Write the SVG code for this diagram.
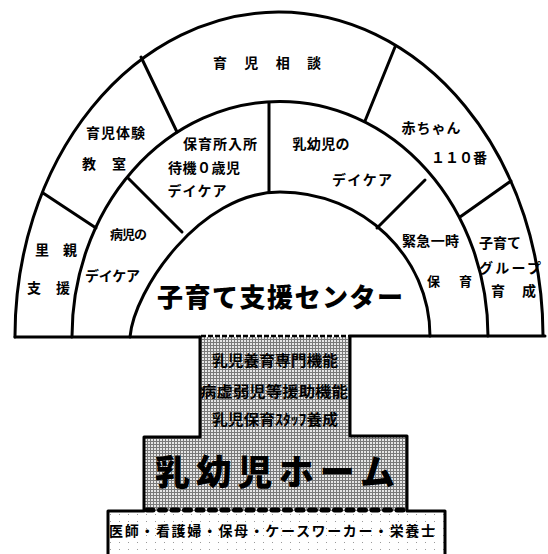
<svg xmlns="http://www.w3.org/2000/svg" width="548" height="554" viewBox="0 0 548 554">
<style>
.ln{fill:none;stroke:#000;stroke-width:3;stroke-linecap:round;stroke-linejoin:round}
.t{font-family:"Noto Sans CJK JP","Noto Sans CJK SC",sans-serif;font-weight:bold;fill:#000;dominant-baseline:central}
.big{font-weight:900}
.s13{font-size:13px}
.s14{font-size:14px}
.s15{font-size:15px}
</style>
<defs>
<pattern id="half" width="3" height="3" patternUnits="userSpaceOnUse">
<rect width="3" height="3" fill="#e6e6e6"/>
<rect width="3" height="1" fill="#7a7a7a"/>
<rect width="1" height="3" fill="#7a7a7a"/>
</pattern>
<pattern id="sparse" width="9" height="7" patternUnits="userSpaceOnUse">
<rect width="9" height="7" fill="#fff"/>
<rect x="2" y="3" width="1" height="1" fill="#9a9a9a"/>
</pattern>
</defs>
<rect width="548" height="554" fill="#fff"/>

<g id="home">
<path d="M200,337 H350 V436 H407 V511 H144 V437 H200 Z" fill="url(#half)"/>
<rect x="108" y="511" width="337" height="45" fill="url(#sparse)"/>
<path class="ln" d="M200,337 V437 H144 V511 H108 V556"/>
<path class="ln" d="M350,337 V436 H407 V511 H445 V556"/>
<line x1="201" y1="336" x2="350" y2="336" stroke="#000" stroke-width="2.5" stroke-dasharray="5 2"/>
<line x1="147" y1="510" x2="404" y2="510" stroke="#000" stroke-width="5" stroke-linecap="round" stroke-dasharray="6 6.5"/>
<text class="t s15" x="275" y="359" text-anchor="middle" textLength="126" lengthAdjust="spacingAndGlyphs">乳児養育専門機能</text>
<text class="t s15" x="274" y="390" text-anchor="middle" textLength="148" lengthAdjust="spacingAndGlyphs">病虚弱児等援助機能</text>
<text class="t s15" x="275" y="418" text-anchor="middle" textLength="126" lengthAdjust="spacingAndGlyphs">乳児保育ｽﾀｯﾌ養成</text>
<text class="t big" x="275" y="469" text-anchor="middle" font-size="35" textLength="240" lengthAdjust="spacing">乳幼児ホーム</text>
<text class="t s14" x="272" y="530" text-anchor="middle" textLength="326" lengthAdjust="spacing">医師・看護婦・保母・ケースワーカー・栄養士</text>
</g>

<g id="frame">
<path class="ln" d="M15,337 A264,324 0 0 1 543,335"/>
<path class="ln" d="M72,337 A208,235 0 0 1 488,336"/>
<path class="ln" d="M130,337 C134,290 200,192 280,192 C363,192 430,257 430,336"/>
<path class="ln" d="M15,337 H200"/>
<path class="ln" d="M350,336 H545"/>
</g>

<g id="connectors">
<line class="ln" x1="141" y1="57" x2="177" y2="132"/>
<line class="ln" x1="395" y1="47" x2="365" y2="121"/>
<line class="ln" x1="43" y1="193" x2="96" y2="228"/>
<line class="ln" x1="511" y1="181" x2="460" y2="217"/>
<line class="ln" x1="128" y1="178" x2="182" y2="232"/>
<line class="ln" x1="269" y1="103" x2="269" y2="192"/>
<line class="ln" x1="425" y1="180" x2="377" y2="228"/>
</g>

<g id="n-soudan"><text class="t s14" x="267" y="62" text-anchor="middle" textLength="108" lengthAdjust="spacing">育児相談</text></g>
<g id="n-taiken">
<text class="t s14" x="115.5" y="132" text-anchor="middle" textLength="59" lengthAdjust="spacing">育児体験</text>
<text class="t s14" x="104" y="163" text-anchor="middle" textLength="44" lengthAdjust="spacing">教室</text>
</g>
<g id="n-hoikusho">
<text class="t s14" x="220" y="143" text-anchor="middle" textLength="74" lengthAdjust="spacing">保育所入所</text>
<text class="t s14" x="204" y="167" text-anchor="middle" textLength="72" lengthAdjust="spacing">待機０歳児</text>
<text class="t s14" x="197" y="190" text-anchor="middle" textLength="59" lengthAdjust="spacing">デイケア</text>
</g>
<g id="n-nyuyouji">
<text class="t s14" x="321" y="143" text-anchor="middle" textLength="57" lengthAdjust="spacing">乳幼児の</text>
<text class="t s14" x="362" y="179" text-anchor="middle" textLength="60" lengthAdjust="spacing">デイケア</text>
</g>
<g id="n-akachan">
<text class="t s14" x="431" y="127" text-anchor="middle" textLength="59" lengthAdjust="spacing">赤ちゃん</text>
<text class="t s14" x="459" y="157" text-anchor="middle" textLength="56" lengthAdjust="spacing">１１０番</text>
</g>
<g id="n-satooya">
<text class="t s14" x="56" y="249" text-anchor="middle" textLength="42" lengthAdjust="spacing">里親</text>
<text class="t s14" x="48.5" y="287" text-anchor="middle" textLength="43" lengthAdjust="spacing">支援</text>
</g>
<g id="n-byouji">
<text class="t s13" x="128.5" y="233" text-anchor="middle" textLength="37" lengthAdjust="spacing">病児の</text>
<text class="t s14" x="112.5" y="275" text-anchor="middle" textLength="55" lengthAdjust="spacing">デイケア</text>
</g>
<g id="n-center"><text class="t big" x="280" y="295" text-anchor="middle" font-size="26" textLength="246" lengthAdjust="spacing">子育て支援センター</text></g>
<g id="n-kinkyu">
<text class="t s14" x="430.5" y="240" text-anchor="middle" textLength="57" lengthAdjust="spacing">緊急一時</text>
<text class="t s13" x="449.5" y="280" text-anchor="middle" textLength="45" lengthAdjust="spacing">保育</text>
</g>
<g id="n-group">
<text class="t s14" x="500" y="242" text-anchor="middle" textLength="42" lengthAdjust="spacing">子育て</text>
<text class="t s14" x="510" y="267" text-anchor="middle" textLength="62" lengthAdjust="spacing">グループ</text>
<text class="t s14" x="513.5" y="290" text-anchor="middle" textLength="45" lengthAdjust="spacing">育成</text>
</g>
</svg>
